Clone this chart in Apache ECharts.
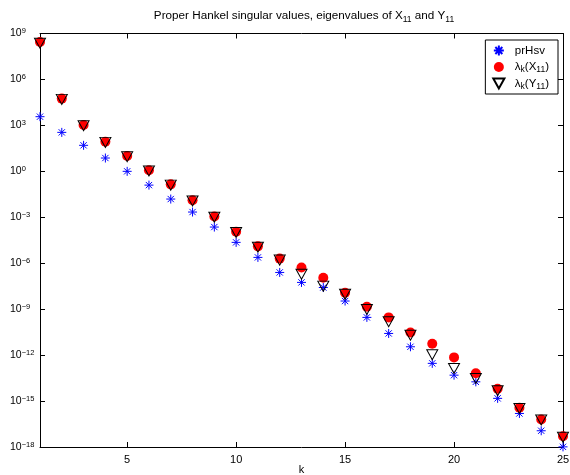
<!DOCTYPE html>
<html><head><meta charset="utf-8">
<script src="https://cdn.jsdelivr.net/npm/echarts@6/dist/echarts.min.js"></script>
<style>html,body{margin:0;padding:0;background:#fff;overflow:hidden}#c{width:570px;height:475px}</style>
</head><body><div id="c"></div>
<script>
const ks = [1,2,3,4,5,6,7,8,9,10,11,12,13,14,15,16,17,18,19,20,21,22,23,24,25];
const prHsv = [3.7e3,3.5e2,50,7.4,1.0,1.26e-1,1.55e-2,2.2e-3,2.3e-4,2.3e-5,2.4e-6,2.5e-7,5.6e-8,2.6e-8,3.4e-9,2.9e-10,2.6e-11,3.5e-12,2.9e-13,4.9e-14,1.8e-14,1.5e-15,1.55e-16,1.15e-17,1.02e-18];
const lamX = [2.8e8,5.6e4,1.07e3,85,10,1.17,0.141,1.3e-2,1.12e-3,1.15e-4,1.26e-5,2.0e-6,5.2e-7,1.12e-7,1.17e-8,1.45e-9,2.9e-10,3.0e-11,5.5e-12,7.1e-13,6.6e-14,6.3e-15,3.7e-16,6.3e-17,5.0e-18];
const lamY = [2.3e8,5.0e4,9.5e2,78,8.9,1.05,0.126,1.15e-2,1.0e-3,1.02e-4,1.1e-5,1.6e-6,1.9e-7,3.2e-8,9.3e-9,9.5e-10,1.5e-10,2.0e-11,1.05e-12,1.35e-13,3.0e-14,4.7e-15,3.3e-16,5.8e-17,4.3e-18];
const xTicks = [5,10,15,20,25];

const FONT = 'Liberation Sans';
const star = 'path://M5,0L5,10M0,5L10,5M1.5,1.5L8.5,8.5M8.5,1.5L1.5,8.5';
const tri = 'path://M0,0L10,0L5,9Z';
const pair = a => a.map((v,i)=>[ks[i], v]);

const chart = echarts.init(document.getElementById('c'), null, {renderer:'canvas'});
const axisCommon = {
  axisLine:{show:true, onZero:false, lineStyle:{color:'#000', width:1}},
  splitLine:{show:false},
};
chart.setOption({
  animation:false,
  textStyle:{fontFamily:FONT},
  title:{
    text:'Proper Hankel singular values, eigenvalues of X{sub|11} and Y{sub|11}',
    left:299, top:3, textAlign:'center',
    textStyle:{fontFamily:FONT, fontSize:11.7, fontWeight:'normal', color:'#000',
      rich:{sub:{fontSize:8.5, fontFamily:FONT, padding:[7,0,0,0], color:'#000'}}}
  },
  grid:{left:40, top:33.5, right:7, bottom:28, containLabel:false, outerBoundsMode:'none'},
  legend:{
    orient:'vertical', right:12, top:40,
    borderColor:'#000', borderWidth:1, backgroundColor:'#fff',
    padding:[3,9,3,6], itemGap:3, itemWidth:22, itemHeight:10,
    textStyle:{fontFamily:FONT, fontSize:11.5, color:'#000',
      rich:{sub:{fontSize:8.5, fontFamily:FONT, padding:[6,0,0,0], color:'#000'}}},
    formatter: n => n==='prHsv' ? 'prHsv' : (n==='X' ? 'λ{sub|k}(X{sub|11})' : 'λ{sub|k}(Y{sub|11})'),
    data:[{name:'prHsv', itemStyle:{opacity:1}},{name:'X', itemStyle:{opacity:1}},{name:'Y', itemStyle:{opacity:1}}]
  },
  xAxis:[{
    ...axisCommon, type:'value', min:1, max:25, position:'bottom',
    name:'k', nameLocation:'middle', nameGap:17, nameMoveOverlap:false,
    nameTextStyle:{fontFamily:FONT, fontSize:11, color:'#000'},
    axisTick:{show:true, inside:true, length:5, customValues:xTicks, lineStyle:{color:'#000'}},
    axisLabel:{show:true, customValues:xTicks, margin:7, fontFamily:FONT, fontSize:11, color:'#000'}
  },{
    ...axisCommon, type:'value', min:1, max:25, position:'top',
    axisTick:{show:true, inside:true, length:5, customValues:xTicks, lineStyle:{color:'#000'}},
    axisLabel:{show:false}
  }],
  yAxis:[{
    ...axisCommon, type:'log', logBase:10, min:1e-18, max:1e9, interval:3, position:'left',
    axisTick:{show:true, inside:true, length:5, lineStyle:{color:'#000'}},
    axisLabel:{show:true, margin:30, align:'left', fontFamily:FONT, fontSize:10.5, color:'#000',
      formatter: v => '10{sup|' + String(Math.round(Math.log10(v))).replace('-','−') + '}',
      rich:{sup:{fontSize:7.5, fontFamily:FONT, padding:[0,0,5,0], color:'#000'}}}
  },{
    ...axisCommon, type:'log', logBase:10, min:1e-18, max:1e9, interval:3, position:'right',
    axisTick:{show:true, inside:true, length:5, lineStyle:{color:'#000'}},
    axisLabel:{show:false}
  }],
  series:[{
    name:'prHsv', type:'scatter', symbol:star, symbolSize:9, clip:false,
    itemStyle:{color:'none', borderColor:'#0000ff', borderWidth:1, opacity:1},
    data:pair(prHsv), z:2
  },{
    name:'X', type:'scatter', symbol:'circle', symbolSize:10, clip:false,
    itemStyle:{color:'#ff0000', borderWidth:0, opacity:1},
    data:pair(lamX), z:3
  },{
    name:'Y', type:'scatter', symbol:tri, symbolSize:[11,10], clip:false,
    itemStyle:{color:'rgba(0,0,0,0)', borderColor:'#000', borderWidth:1, opacity:1},
    data:pair(lamY), z:4
  }]
});
</script></body></html>
